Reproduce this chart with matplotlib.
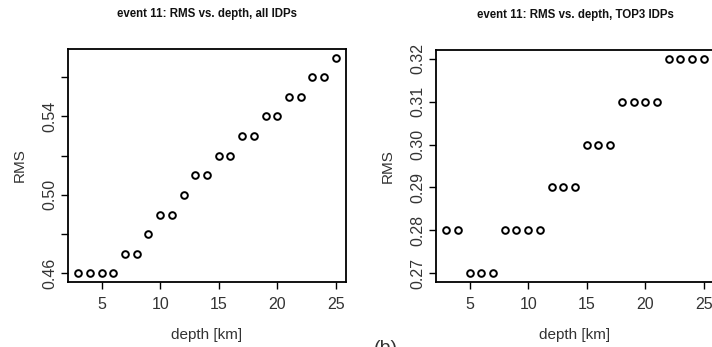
import numpy as np
import matplotlib.pyplot as plt

# depth [km] for both panels
depth = list(range(3, 26))

# panel (left): all IDPs
rms_all = [0.46, 0.46, 0.46, 0.46, 0.47, 0.47, 0.48, 0.49, 0.49, 0.50, 0.51, 0.51,
           0.52, 0.52, 0.53, 0.53, 0.54, 0.54, 0.55, 0.55, 0.56, 0.56, 0.57]
yticks_all = [0.46, 0.48, 0.50, 0.52, 0.54, 0.56]
ylabels_all = ['0.46', '', '0.50', '', '0.54', '']

# panel (right): TOP3 IDPs
rms_top3 = [0.28, 0.28, 0.27, 0.27, 0.27, 0.28, 0.28, 0.28, 0.28, 0.29, 0.29, 0.29,
            0.30, 0.30, 0.30, 0.31, 0.31, 0.31, 0.31, 0.32, 0.32, 0.32, 0.32]
yticks_top3 = [0.27, 0.28, 0.29, 0.30, 0.31, 0.32]
ylabels_top3 = ['0.27', '0.28', '0.29', '0.30', '0.31', '0.32']

xticks = [5, 10, 15, 20, 25]

plt.rcParams.update({'font.family': 'Liberation Sans', 'font.size': 10.5})
txt = '#333333'

fig = plt.figure(figsize=(7.12, 3.47), dpi=100)
W, H = 712, 347


def r_range(vals):
    lo, hi = min(vals), max(vals)
    pad = (hi - lo) * 0.04
    return lo - pad, hi + pad


def panel(rect, x, y, yt, ylab, title):
    ax = fig.add_axes(rect)
    ax.plot(x, y, 'o', mfc='none', mec='black', ms=4.8, mew=1.4)
    ax.set_xlim(*r_range(x))
    ax.set_ylim(*r_range(y))
    ax.set_xticks(xticks)
    ax.set_yticks(yt)
    ax.set_yticklabels(ylab, rotation=90, va='center')
    ax.tick_params(length=5, width=1.0, colors='black', labelcolor=txt, labelsize=11.5)
    ax.tick_params(axis='x', pad=6)
    ax.tick_params(axis='y', pad=3)
    for s in ax.spines.values():
        s.set_linewidth(1.3)
    ax.set_xlabel('depth [km]', color=txt, labelpad=11, fontsize=11)
    ax.set_ylabel('RMS', color=txt, labelpad=11, fontsize=11)
    ax.set_title(title, fontsize=8.3, fontweight='bold', color='#111', pad=23)
    return ax


panel([68 / W, 65 / H, 278 / W, 233 / H], depth, rms_all, yticks_all, ylabels_all,
      'event 11: RMS vs. depth, all IDPs')
panel([436 / W, 65 / H, 278 / W, 232 / H], depth, rms_top3, yticks_top3, ylabels_top3,
      'event 11: RMS vs. depth, TOP3 IDPs')

# panel letter, cut by the bottom edge as in the scan
fig.text(386 / W, 1 - 340 / H, '(b)', fontsize=14, color=txt, ha='center', va='top')

fig.savefig('out.png', dpi=100)
